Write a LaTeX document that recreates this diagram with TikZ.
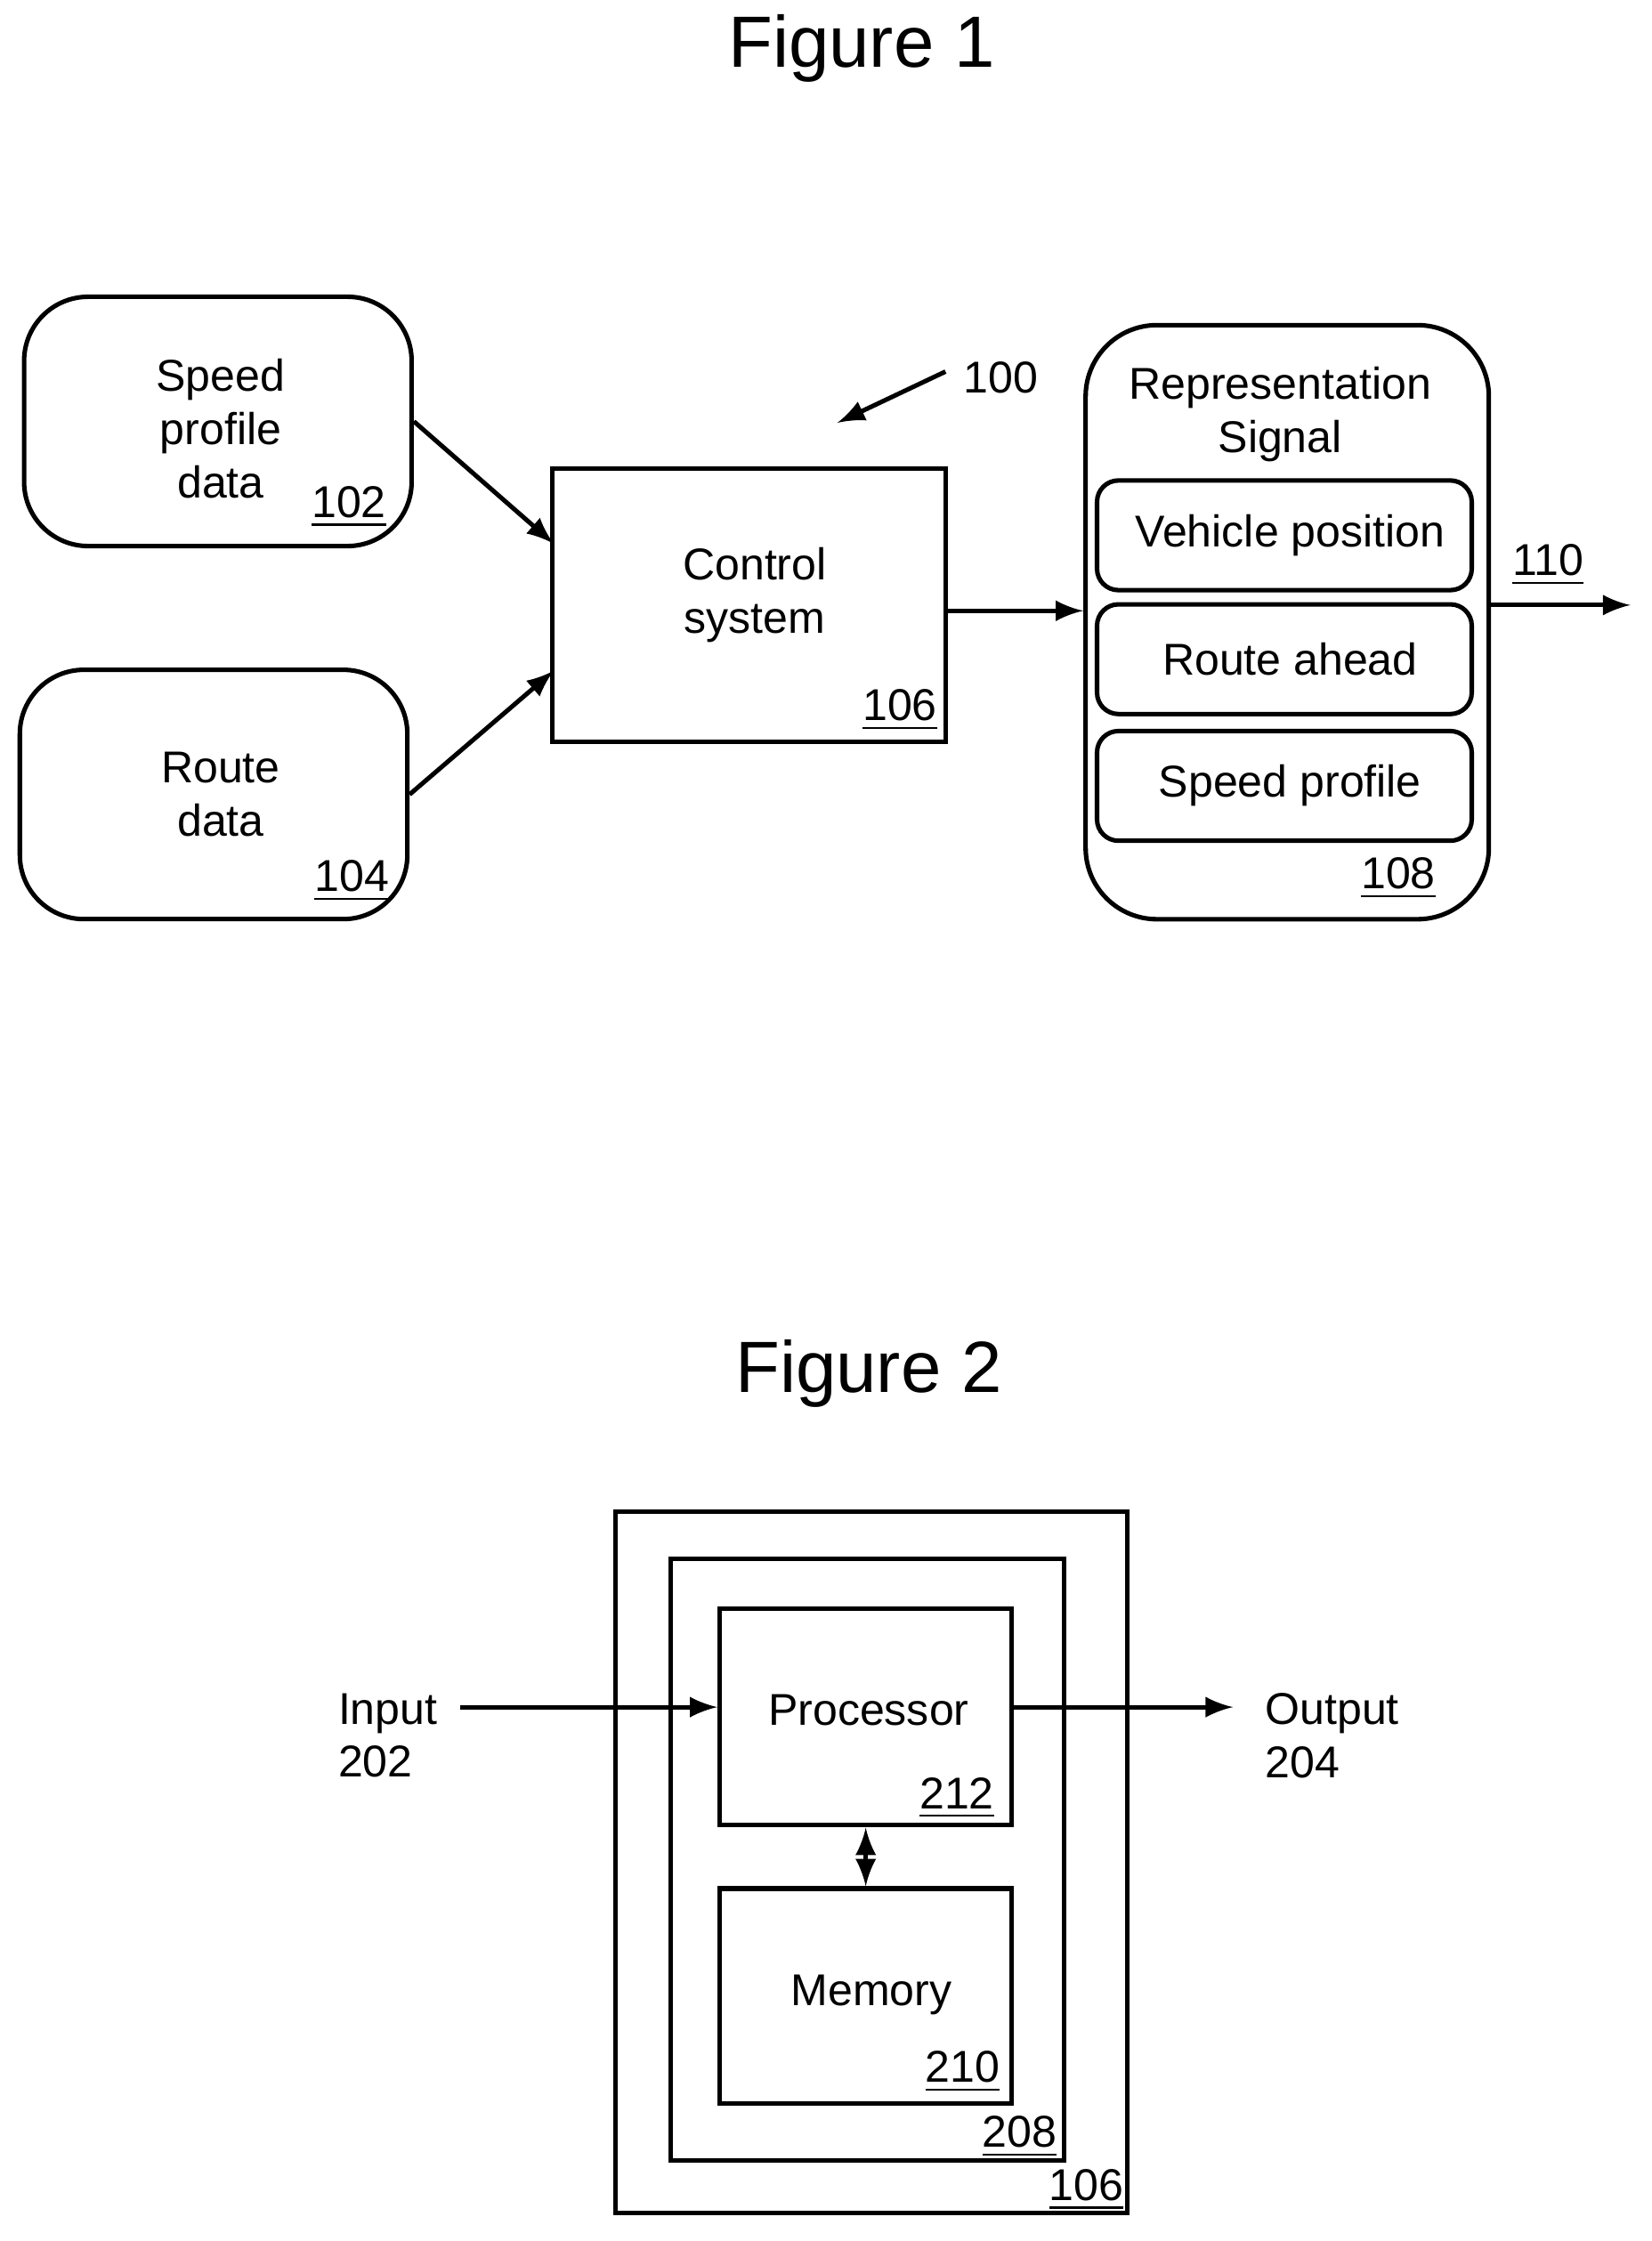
\documentclass[tikz,border=0pt]{standalone}
\usepackage{fontspec}
\setmainfont{Liberation Sans}
\usetikzlibrary{arrows}
\tikzset{
  box/.style={draw,line width=0.9pt,align=center,font=\fontsize{8.9}{10.6}\selectfont,inner sep=0pt},
  rbox/.style={box,rounded corners=0.45cm},
  ref/.style={font=\fontsize{8.9}{10.6}\selectfont,inner sep=1pt},
  con/.style={line width=0.9pt,-latex},
  title/.style={font=\fontsize{14.5}{18}\selectfont}
}
\newcommand{\refnum}[1]{\underline{#1}}
\begin{document}
\begin{tikzpicture}[x=0.01cm,y=-0.01cm]
   \useasboundingbox (0,0) rectangle (1160,1574);
   % figure 1
   \node [title] (t1) at (605,34) {Figure 1};
   \node [rbox,minimum width=2.72cm,minimum height=1.75cm] (spd) at (153,296) {};
   \node [box,draw=none] at (155,301) {Speed\\profile\\data};
   \node [ref] at (245,356) {\refnum{102}};
   \node [rbox,minimum width=2.72cm,minimum height=1.75cm] (rte) at (150,558) {};
   \node [box,draw=none] at (155,558) {Route\\data};
   \node [ref] at (247,619) {\refnum{104}};
   \node [box,minimum width=2.76cm,minimum height=1.92cm] (ctl) at (526,425) {};
   \node [box,draw=none] at (530,418) {Control\\system};
   \node [ref] at (632,499) {\refnum{106}};
   \node [rbox,rounded corners=0.5cm,minimum width=2.83cm,minimum height=4.17cm] (sig) at (904,437) {};
   \node [box,draw=none] at (899,291) {Representation\\Signal};
   \node [rbox,rounded corners=0.15cm,minimum width=2.63cm,minimum height=0.77cm] (pos) at (902,376) {};
   \node [box,draw=none] at (906,376) {Vehicle position};
   \node [rbox,rounded corners=0.15cm,minimum width=2.63cm,minimum height=0.77cm] (ahd) at (902,463) {};
   \node [box,draw=none] at (906,463) {Route ahead};
   \node [rbox,rounded corners=0.15cm,minimum width=2.63cm,minimum height=0.77cm] (prf) at (902,552) {};
   \node [box,draw=none] at (906,552) {Speed profile};
   \node [ref] at (982,617) {\refnum{108}};
   \coordinate (out) at (1145,425);
   \coordinate (a0) at (664,261);
   \coordinate (a1) at (588,297);
   \draw [con] (spd.east) -- (389,382);
   \draw [con] (rte.east) -- (389,471);
   \draw [con] (ctl.east |- 0,429) -- (sig.west |- 0,429);
   \draw [con] (sig.east |- out) -- (out);
   \node [ref] at (1087,397) {\refnum{110}};
   \draw [con] (a0) -- (a1);
   \node [ref] at (703,265) {100};
   % figure 2
   \node [title] (t2) at (610,965) {Figure 2};
   \node [box,minimum width=3.59cm,minimum height=4.92cm] (sys) at (612,1308) {};
   \node [ref] at (763,1538) {\refnum{106}};
   \node [box,minimum width=2.76cm,minimum height=4.22cm] (mod) at (609,1306) {};
   \node [ref] at (716,1501) {\refnum{208}};
   \node [box,minimum width=2.05cm,minimum height=1.52cm] (cpu) at (608,1206) {};
   \node [box,draw=none] at (610,1201) {Processor};
   \node [ref] at (672,1263) {\refnum{212}};
   \node [box,minimum width=2.05cm,minimum height=1.51cm] (mem) at (608,1402) {};
   \node [box,draw=none] at (612,1401) {Memory};
   \node [ref] at (676,1455) {\refnum{210}};
   \draw [line width=0.9pt,latex-latex] (cpu) -- (mem);
   \coordinate (in) at (323,1199);
   \coordinate (res) at (866,1199);
   \draw [con] (in) -- (cpu.west |- in);
   \draw [con] (cpu.east |- res) -- (res);
   \node [box,draw=none,align=left,anchor=west] at (236,1219) {Input\\202};
   \node [box,draw=none,align=left,anchor=west] at (887,1219) {Output\\204};
\end{tikzpicture}
\end{document}
